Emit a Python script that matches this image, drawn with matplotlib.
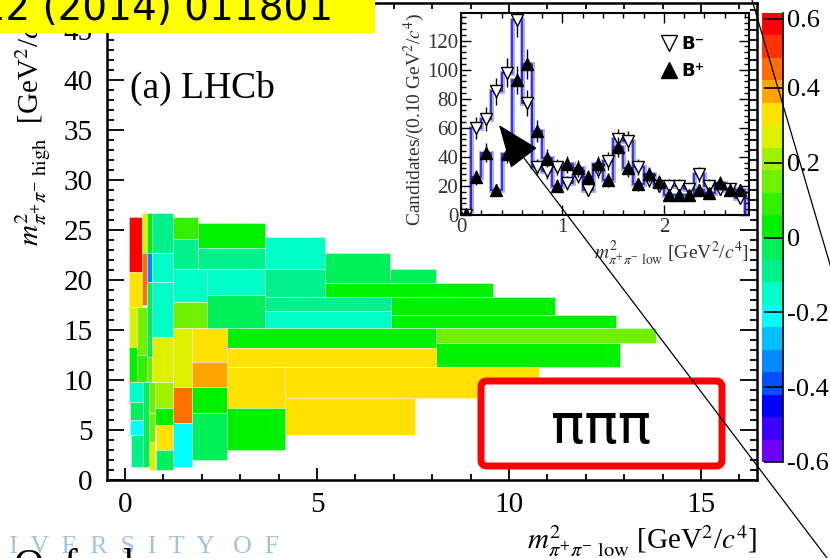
import numpy as np
import matplotlib
matplotlib.use("Agg")
import matplotlib.pyplot as plt
from matplotlib.colors import ListedColormap, BoundaryNorm
from matplotlib.cm import ScalarMappable
from matplotlib.patches import Rectangle, FancyBboxPatch, FancyArrowPatch
from matplotlib.lines import Line2D
from matplotlib.ticker import MultipleLocator, AutoMinorLocator, FixedLocator, FixedFormatter
from matplotlib.transforms import IdentityTransform

plt.rcParams["font.family"] = "serif"
plt.rcParams["font.serif"] = ["Liberation Serif", "DejaVu Serif"]
plt.rcParams["mathtext.fontset"] = "stix"

# A_CP in the adaptive Dalitz-plot bins (GeV^2/c^4): low / high m^2(pi+ pi-)
bin_x0 = [0.11, 0.11, 0.11, 0.11, 0.11, 0.14, 0.14, 0.16,
          0.43, 0.43, 0.32, 0.32,
          0.56, 0.58, 0.56, 0.56,
          0.48, 0.62, 0.62, 0.62,
          0.71, 0.71, 0.71, 0.71, 0.77, 0.77, 0.80, 0.80,
          1.26, 1.26, 1.26, 1.26, 1.26, 1.26, 1.26,
          1.74, 1.74, 1.74, 1.74,
          1.91, 1.91, 2.13, 2.13,
          3.65, 3.65, 3.65, 3.65, 5.21, 6.90, 5.21, 6.94, 6.94,
          2.65, 8.11, 8.11, 2.65, 2.65, 4.17, 4.17, 2.65]
bin_x1 = [0.43, 0.43, 0.32, 0.32, 0.48, 0.48, 0.48, 0.48,
          0.56, 0.56, 0.56, 0.56,
          0.71, 0.71, 0.71, 0.71,
          0.62, 0.77, 0.77, 0.77,
          1.26, 1.26, 1.26, 1.26, 1.26, 1.26, 1.26, 1.26,
          1.91, 1.91, 2.13, 2.13, 1.74, 1.74, 1.74,
          2.65, 2.65, 2.65, 2.65,
          3.65, 3.65, 3.65, 3.65,
          5.21, 5.21, 6.94, 6.94, 6.90, 8.11, 9.58, 11.20, 12.80,
          8.11, 13.84, 12.89, 8.11, 4.17, 10.79, 7.55, 4.17]
bin_y0 = [20.8, 17.3, 13.3, 9.8, 7.8, 6.0, 4.5, 1.3,
          22.7, 17.5, 12.5, 9.8,
          22.7, 19.8, 12.3, 9.8,
          1.3, 6.7, 3.8, 1.0,
          22.7, 19.8, 14.3, 9.8, 7.2, 5.5, 3.0, 1.0,
          24.1, 21.1, 17.8, 15.2, 9.3, 5.7, 1.3,
          11.8, 9.3, 6.7, 2.0,
          23.2, 21.1, 18.5, 15.2,
          21.1, 18.3, 16.9, 15.2, 19.7, 19.7, 18.3, 16.5, 15.2,
          13.2, 13.7, 11.3, 11.3, 7.2, 8.2, 4.5, 3.0]
bin_y1 = [26.3, 20.8, 17.3, 13.3, 9.8, 7.8, 6.0, 4.5,
          26.7, 22.7, 17.3, 12.5,
          26.7, 22.7, 19.8, 12.3,
          9.8, 9.8, 6.7, 3.8,
          26.7, 22.7, 19.8, 14.3, 9.8, 7.2, 5.5, 3.0,
          26.3, 24.1, 21.1, 17.8, 15.2, 9.3, 5.7,
          15.2, 11.8, 9.3, 6.7,
          25.7, 23.2, 21.1, 18.5,
          24.3, 21.1, 18.3, 16.9, 22.7, 21.1, 19.7, 18.3, 16.5,
          15.2, 15.2, 13.7, 13.2, 11.3, 11.3, 8.2, 7.2]
bin_acp = [0.58, 0.33, 0.27, 0.03, -0.15, -0.03, -0.21, -0.08,
           0.27, 0.45, 0.15, 0.09,
           0.03, -0.33, -0.06, 0.12,
           -0.02, 0.12, 0.15, 0.27,
           -0.10, -0.15, -0.15, 0.27, 0.20, 0.03, 0.33, -0.05,
           0.09, -0.09, -0.15, 0.15, 0.27, 0.45, -0.21,
           0.33, 0.39, 0.03, -0.03,
           0.03, -0.09, -0.15, -0.03,
           -0.15, -0.09, -0.09, -0.15, -0.03, -0.03, 0.03, 0.03, 0.03,
           0.03, 0.12, 0.05, 0.33, 0.33, 0.33, 0.33, 0.03]

# palette bands of the colour scale, bottom to top
acp_levels = [-0.60, -0.54, -0.48, -0.42, -0.36, -0.30, -0.24, -0.18, -0.12, -0.06,
              0.00, 0.06, 0.12, 0.18, 0.24, 0.30, 0.36, 0.42, 0.48, 0.54, 0.62]
band_colors = ["#6e00ff", "#3c00ff", "#0000ff", "#0050ff", "#008cff", "#00beff",
               "#00ffff", "#00ffc8", "#00f08c", "#00f05a", "#00f000", "#32f000",
               "#6ef000", "#a0f000", "#dcf000", "#ffe100", "#ffa500", "#ff6e00",
               "#ff3200", "#ff0000"]
cbar_ticks = [-0.6, -0.4, -0.2, 0.0, 0.2, 0.4, 0.6]
cbar_labels = ["-0.6", "-0.4", "-0.2", "0", "0.2", "0.4", "0.6"]

# projection onto m^2 low, 0.10 GeV^2/c^4 bins
proj_edges = np.round(np.arange(0, 2.81, 0.1), 2)
bminus = [0, 60, 66, 85, 98, 134, 77, 33, 30, 33, 22, 27, 17, 31,
          37, 52, 51, 33, 24, 20, 20, 20, 18, 28, 20, 18, 18, 12]
bplus = [1, 26, 43, 17, 42, 93, 104, 58, 39, 20, 35, 32, 26, 35,
         24, 47, 32, 21, 28, 23, 14, 14, 14, 17, 15, 22, 17, 17]

W, H = 830, 558
fig = plt.figure(figsize=(W / 100, H / 100), dpi=100)


def px_box(l, t, r, b):
    return [l / W, 1 - b / H, (r - l) / W, (b - t) / H]


cmap = ListedColormap(band_colors)
norm = BoundaryNorm(acp_levels, cmap.N)

# ---- main Dalitz plot
ax = fig.add_axes(px_box(107, 3, 757, 480))
ax.bar(bin_x0, np.subtract(bin_y1, bin_y0), width=np.subtract(bin_x1, bin_x0),
       bottom=bin_y0, align="edge", color=cmap(norm(bin_acp)),
       edgecolor=(1, 1, 1, 0.45), linewidth=0.6)
ax.set_xlim(-0.47, 16.46)
ax.set_ylim(0, 47.7)
ax.xaxis.set_major_locator(MultipleLocator(5))
ax.yaxis.set_major_locator(MultipleLocator(5))
ax.xaxis.set_minor_locator(AutoMinorLocator(5))
ax.yaxis.set_minor_locator(AutoMinorLocator(5))
ax.tick_params(which="both", direction="in", top=True, right=True, width=1.3,
               labelsize=21)
ax.tick_params(axis="x", which="major", length=9, pad=9)
ax.tick_params(axis="x", which="minor", length=4.5)
ax.tick_params(axis="y", which="major", length=12, pad=10.5)
ax.tick_params(axis="y", which="minor", length=5)
for s in ax.spines.values():
    s.set_linewidth(1.8)

ax.text(-0.114, 1.0, r"$m^{2}_{\pi^{+}\pi^{-}\ \mathrm{high}}$  [GeV$^{2}$/$c^{4}$]",
        transform=ax.transAxes, rotation=90, ha="center", va="top", fontsize=21)
ax.text(1.0, -0.1426, r"$m^{2}_{\pi^{+}\pi^{-}\ \mathrm{low}}$ [GeV$^{2}$/$c^{4}$]",
        transform=ax.transAxes, ha="right", va="baseline", fontsize=21)
ax.text(0.13, 38.2, "(a) LHCb", fontsize=27, va="baseline")

# ---- colour scale
cax = fig.add_axes(px_box(762, 13, 783, 462))
cb = fig.colorbar(ScalarMappable(norm=norm, cmap=cmap), cax=cax)
cb.outline.set_visible(False)
cb.ax.yaxis.set_major_locator(FixedLocator(cbar_ticks))
cb.ax.yaxis.set_major_formatter(FixedFormatter(cbar_labels))
cb.ax.yaxis.set_minor_locator(FixedLocator([]))
cb.ax.tick_params(direction="in", length=14, width=1.2, labelsize=19, pad=3)
cb.ax.plot([1, 1], [0, 1], transform=cb.ax.transAxes, color="k", lw=1.2,
           clip_on=False)

# ---- inset: projection for B- and B+
ax_in = fig.add_axes(px_box(461, 13, 749, 215))
ax_in.set_facecolor("white")
centers = proj_edges[:-1] + 0.05
for counts in (bminus, bplus):
    ax_in.stairs(counts, proj_edges, color="#a9a9f2", lw=3.5, zorder=1)
    ax_in.stairs(counts, proj_edges, color="#2424c4", lw=1.2, zorder=2)
ax_in.errorbar(centers, bminus, yerr=np.sqrt(bminus), fmt="v", ms=8,
               mfc="white", mec="k", mew=1.0, ecolor="k", elinewidth=1.0,
               zorder=3)
ax_in.errorbar(centers, bplus, yerr=np.sqrt(bplus), fmt="^", ms=8,
               color="k", ecolor="k", elinewidth=1.0, zorder=4)
ax_in.set_xlim(0, 2.84)
ax_in.set_ylim(0, 139)
ax_in.xaxis.set_major_locator(MultipleLocator(1))
ax_in.xaxis.set_minor_locator(AutoMinorLocator(5))
ax_in.yaxis.set_major_locator(MultipleLocator(20))
ax_in.yaxis.set_minor_locator(AutoMinorLocator(5))
ax_in.tick_params(which="both", direction="in", top=True, right=True,
                  width=1.0, labelsize=15, labelcolor="#333333")
ax_in.tick_params(which="major", length=7)
ax_in.tick_params(which="minor", length=3.5)
ax_in.tick_params(axis="y", pad=2)
ax_in.tick_params(axis="x", pad=2)
for s in ax_in.spines.values():
    s.set_linewidth(1.5)
ax_in.text(-0.163, 1.0, r"Candidates/(0.10 GeV$^{2}$/$c^{4}$)",
           transform=ax_in.transAxes, rotation=90, ha="center", va="top",
           fontsize=14, color="#333333")
ax_in.text(1.0, -0.19, r"$m^{2}_{\pi^{+}\pi^{-}\ \mathrm{low}}$ [GeV$^{2}$/$c^{4}$]",
           transform=ax_in.transAxes, ha="right", va="center", fontsize=14,
           color="#333333")
leg_handles = [Line2D([], [], marker="v", ls="none", ms=11, mfc="white",
                      mec="k", label="B⁻"),
               Line2D([], [], marker="^", ls="none", ms=11, color="k",
                      label="B⁺")]
ax_in.legend(handles=leg_handles, loc="upper left",
             bbox_to_anchor=(0.64, 0.97), frameon=False, handlelength=0.8,
             handletextpad=0.3, labelspacing=0.5,
             prop={"family": "DejaVu Sans", "weight": "bold", "size": 13})

# ---- slide decorations
fig.add_artist(Rectangle((0, 1 - 33 / H), 375 / W, 33 / H,
                         transform=fig.transFigure, fc="#ffff00", ec="none",
                         zorder=20))
fig.text(333 / W, 1 - 20 / H, "PRL 112 (2014) 011801", ha="right",
         va="baseline", fontsize=28, family="DejaVu Sans", zorder=21)

fig.add_artist(FancyBboxPatch((481, H - 466), 241, 85,
                              boxstyle="round,pad=0,rounding_size=6",
                              transform=IdentityTransform(), fc="white",
                              ec="#ff0000", lw=5, zorder=5))
fig.text(601 / W, 1 - 443 / H, "πππ", ha="center", va="baseline",
         fontsize=40, family="DejaVu Sans", zorder=6)

fig.add_artist(FancyArrowPatch((827, 0), (499, H - 125),
                               transform=IdentityTransform(),
                               arrowstyle="-|>,head_length=1.4,head_width=0.55",
                               mutation_scale=20, lw=0.9, color="k",
                               shrinkA=0, shrinkB=0, zorder=7))
fig.add_artist(Line2D([752, 870], [H, H - 400], transform=IdentityTransform(),
                      color="k", lw=0.9, zorder=7))

fig.text(-54 / W, 1 - 553 / H, "U  N  I  V  E  R  S  I  T  Y   O  F",
         fontsize=18.5, color="#a0c3e1", va="baseline")
fig.text(13 / W, 1 - 578 / H, "Oxford", fontsize=30, color="k", va="baseline")

fig.savefig("out.png", dpi=100)
